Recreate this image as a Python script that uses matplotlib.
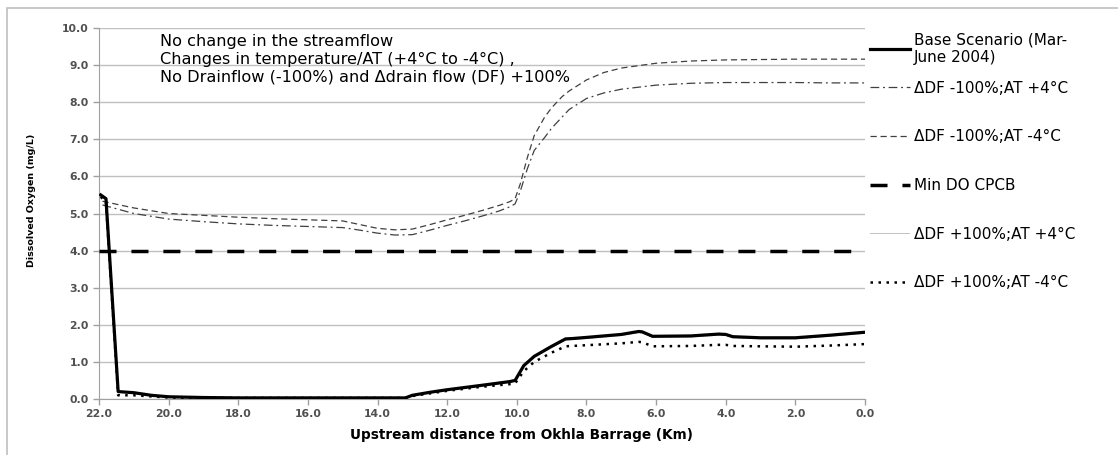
import matplotlib
matplotlib.use("Agg")
import matplotlib.pyplot as plt
from matplotlib.patches import Rectangle

# distances upstream from Okhla Barrage (km)
x_low = [21.95, 21.8, 21.45, 21.0, 20.5, 20.0, 19.0, 18.0, 16.0, 14.0, 13.2, 13.0, 12.5, 12.0,
         11.0, 10.2, 10.05, 9.8, 9.5, 9.0, 8.6, 8.4, 8.0, 7.0, 6.5, 6.4, 6.1, 5.0, 4.2, 4.0,
         3.8, 3.0, 2.0, 1.0, 0.0]
base_do = [5.5, 5.4, 0.2, 0.17, 0.1, 0.06, 0.04, 0.03, 0.03, 0.03, 0.03, 0.1, 0.18, 0.25,
           0.37, 0.47, 0.5, 0.9, 1.15, 1.42, 1.62, 1.63, 1.66, 1.74, 1.82, 1.81, 1.69, 1.7, 1.75, 1.74,
           1.68, 1.65, 1.65, 1.72, 1.8]
df_p100_at_p4 = [5.48, 5.38, 0.18, 0.15, 0.09, 0.05, 0.04, 0.03, 0.03, 0.03, 0.03, 0.09, 0.17, 0.24,
                 0.35, 0.45, 0.48, 0.87, 1.12, 1.39, 1.59, 1.6, 1.63, 1.71, 1.79, 1.78, 1.66, 1.67, 1.72, 1.71,
                 1.65, 1.62, 1.62, 1.69, 1.77]
df_p100_at_m4 = [5.45, 5.3, 0.1, 0.1, 0.07, 0.04, 0.03, 0.03, 0.03, 0.03, 0.03, 0.08, 0.15, 0.22,
                 0.33, 0.4, 0.42, 0.75, 1.0, 1.25, 1.42, 1.43, 1.45, 1.5, 1.54, 1.53, 1.42, 1.43, 1.46, 1.46,
                 1.43, 1.42, 1.41, 1.44, 1.48]

x_up = [21.9, 21.0, 20.0, 19.0, 18.0, 17.0, 16.0, 15.0, 14.5, 14.0, 13.5, 13.0, 12.5, 12.0, 11.5,
        11.0, 10.5, 10.2, 10.05, 9.9, 9.7, 9.5, 9.2, 9.0, 8.7, 8.5, 8.0, 7.5, 7.0, 6.0, 5.0, 4.0,
        3.0, 2.0, 1.0, 0.0]
df_m100_at_m4 = [5.33, 5.15, 5.0, 4.95, 4.9, 4.86, 4.83, 4.8, 4.7, 4.6, 4.56, 4.58, 4.7, 4.83, 4.95,
                 5.08, 5.22, 5.32, 5.4, 5.8, 6.5, 7.1, 7.6, 7.85, 8.15, 8.3, 8.6, 8.8, 8.92, 9.05, 9.11, 9.14,
                 9.15, 9.16, 9.16, 9.16]
df_m100_at_p4 = [5.23, 5.0, 4.85, 4.78, 4.72, 4.68, 4.65, 4.62, 4.55, 4.47, 4.42, 4.43, 4.55, 4.68, 4.8,
                 4.93, 5.07, 5.18, 5.26, 5.6, 6.2, 6.7, 7.05, 7.3, 7.6, 7.8, 8.1, 8.25, 8.35, 8.46, 8.51, 8.53,
                 8.53, 8.53, 8.52, 8.52]

x_min = [22.0, 0.0]
min_do_cpcb = [4.0, 4.0]

y_ticks = [0.0, 1.0, 2.0, 3.0, 4.0, 5.0, 6.0, 7.0, 8.0, 9.0, 10.0]
x_ticks = [22.0, 20.0, 18.0, 16.0, 14.0, 12.0, 10.0, 8.0, 6.0, 4.0, 2.0, 0.0]

note = ("No change in the streamflow\n"
        "Changes in temperature/AT (+4\u00b0C to -4\u00b0C) ,\n"
        "No Drainflow (-100%) and \u0394drain flow (DF) +100%")

fig = plt.figure(figsize=(11.18, 4.55), dpi=100)
fig.patches.append(Rectangle((7 / 1118, -0.1), 1.2, 1.1 - 8 / 455, transform=fig.transFigure,
                             fill=False, edgecolor="#bfbfbf", linewidth=1.2))
ax = fig.add_axes([99 / 1118, 1 - 399 / 455, (865 - 99) / 1118, (399 - 28) / 455])

h_base, = ax.plot(x_low, base_do, color="black", lw=2.3, label="Base Scenario (Mar-\nJune 2004)", zorder=5)
h1, = ax.plot(x_up, df_m100_at_p4, color="#404040", lw=0.9, dashes=(7, 3, 1.5, 3),
              label="\u0394DF -100%;AT +4\u00b0C")
h2, = ax.plot(x_up, df_m100_at_m4, color="#404040", lw=0.9, dashes=(5, 3),
              label="\u0394DF -100%;AT -4\u00b0C")
h3, = ax.plot(x_min, min_do_cpcb, color="black", lw=2.5, dashes=(4.9, 4.3), label="Min DO CPCB", zorder=4)
h4, = ax.plot(x_low, df_p100_at_p4, color="#707070", lw=0.6, dashes=(1.2, 1.2),
              label="\u0394DF +100%;AT +4\u00b0C", zorder=3)
h5, = ax.plot(x_low, df_p100_at_m4, color="black", lw=1.8, dashes=(1, 2.2),
              label="\u0394DF +100%;AT -4\u00b0C", zorder=6)

ax.set_xlim(22, 0)
ax.set_ylim(0, 10)
ax.set_yticks(y_ticks)
ax.set_xticks(x_ticks)
ax.set_yticklabels([f"{v:.1f}" for v in y_ticks])
ax.set_xticklabels([f"{v:.1f}" for v in x_ticks])
ax.tick_params(axis="both", labelsize=7.8, labelcolor="#505050", color="#a0a0a0",
               length=4, width=1, direction="out")
for lab in ax.get_xticklabels() + ax.get_yticklabels():
    lab.set_fontweight("bold")
ax.yaxis.grid(True, color="#c0c0c0", lw=1)
ax.set_axisbelow(True)
for side in ["top", "right"]:
    ax.spines[side].set_visible(False)
for side in ["left", "bottom"]:
    ax.spines[side].set_color("#a0a0a0")

ax.set_ylabel("Dissolved Oxygen (mg/L)", fontsize=6.8, fontweight="bold",
              family=["Liberation Sans Narrow", "DejaVu Sans"])
ax.yaxis.set_label_coords(-0.082, 0.535)
ax.set_xlabel("Upstream distance from Okhla Barrage (Km)", fontsize=9.8, fontweight="bold",
              family="DejaVu Sans")
ax.xaxis.set_label_coords(0.551, -0.077)

ax.text(0.079, 0.983, note, transform=ax.transAxes, fontsize=11.6, family="DejaVu Sans",
        va="top", ha="left", linespacing=1.2)

leg_font = {"family": "DejaVu Sans", "size": 11}
leg1 = ax.legend(handles=[h_base], loc="upper left", bbox_to_anchor=(1.0065, 0.988), frameon=False,
                 prop=leg_font, handlelength=2.6, handletextpad=0.3, borderpad=0, borderaxespad=0,
                 labelspacing=0.1)
ax.add_artist(leg1)
ax.legend(handles=[h1, h2, h3, h4, h5], loc="upper left", bbox_to_anchor=(1.0065, 0.858), frameon=False,
          prop=leg_font, handlelength=2.6, handletextpad=0.3, borderpad=0, borderaxespad=0,
          labelspacing=2.2)

fig.savefig("out.png", dpi=100)
